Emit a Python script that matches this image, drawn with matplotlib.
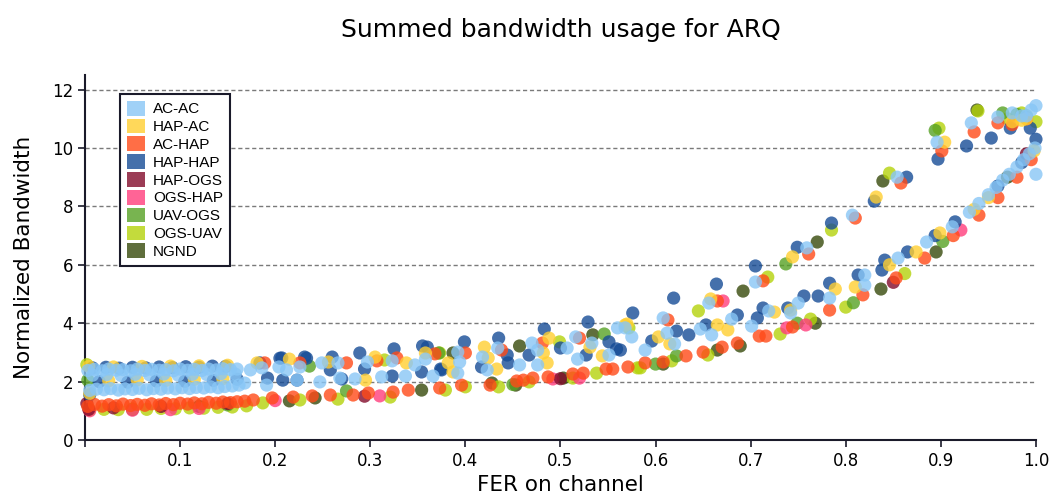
import numpy as np
import matplotlib.pyplot as plt
from matplotlib.patches import Patch

# FER / normalized bandwidth pairs per link type
acac_x = [0.003, 0.010, 0.018, 0.025, 0.033, 0.040, 0.048, 0.055, 0.063, 0.070, 0.078, 0.085, 0.093, 0.100, 0.108,
          0.115, 0.123, 0.130, 0.138, 0.145, 0.153, 0.160,
          0.008, 0.023, 0.038, 0.053, 0.068, 0.083, 0.098, 0.113, 0.128, 0.143, 0.158,
          0.005, 0.012, 0.020, 0.027, 0.035, 0.042, 0.050, 0.057, 0.065, 0.072, 0.080, 0.087, 0.095, 0.102, 0.110,
          0.117, 0.125, 0.132, 0.140, 0.147, 0.155, 0.162,
          0.168, 0.174, 0.186, 0.191, 0.204, 0.212, 0.223, 0.226, 0.247, 0.249, 0.266, 0.268, 0.284, 0.297, 0.312,
          0.323, 0.337, 0.347, 0.358, 0.366, 0.392, 0.394, 0.392, 0.434, 0.418, 0.423, 0.457, 0.470, 0.476, 0.476, 0.507,
          0.516, 0.533, 0.518, 0.551, 0.560, 0.568, 0.575, 0.589, 0.608, 0.612, 0.620, 0.647, 0.656, 0.659, 0.680, 0.701,
          0.705, 0.719, 0.742, 0.750, 0.759, 0.783, 0.807, 0.820, 0.820, 0.854, 0.855, 0.885, 0.896, 0.912, 0.932, 0.960,
          0.930, 0.940, 0.950, 0.958, 0.965, 0.972, 0.980, 0.987, 0.993, 0.999, 1.000, 0.985, 0.995, 1.000,
          0.975, 0.990]
acac_y = [2.38, 2.42, 2.37, 2.43, 2.39, 2.41, 2.37, 2.43, 2.38, 2.42, 2.39, 2.41, 2.37, 2.43, 2.39,
          2.42, 2.38, 2.43, 2.40, 2.44, 2.41, 2.43,
          2.22, 2.24, 2.21, 2.25, 2.23, 2.26, 2.22, 2.25, 2.24, 2.27, 2.26,
          1.70, 1.74, 1.72, 1.76, 1.71, 1.75, 1.73, 1.77, 1.72, 1.76, 1.74, 1.78, 1.75, 1.79, 1.76,
          1.80, 1.78, 1.82, 1.79, 1.83, 1.85, 1.88,
          1.95, 2.40, 2.47, 1.88, 2.50, 2.40, 2.05, 2.50, 1.99, 2.64, 2.64, 2.12, 2.09, 2.67, 2.16,
          2.71, 2.19, 2.57, 2.77, 2.19, 3.01, 2.67, 2.29, 3.15, 2.84, 2.40, 2.57, 3.32, 3.08, 2.57, 3.15,
          3.53, 3.32, 2.77, 2.91, 3.84, 3.84, 3.53, 3.08, 4.18, 3.66, 3.29, 3.80, 4.69, 3.60, 4.14, 3.90,
          5.41, 4.42, 4.35, 4.69, 6.58, 4.86, 7.70, 5.65, 5.30, 9.00, 6.23, 6.78, 10.20, 7.30, 10.86, 11.06,
          7.80, 8.10, 8.40, 8.65, 8.90, 9.10, 9.35, 9.60, 9.80, 10.00, 9.10, 11.10, 11.30, 11.45,
          11.20, 11.10]

hapac_x = [0.004, 0.030, 0.060, 0.090, 0.120, 0.150, 0.025, 0.055, 0.085, 0.115, 0.145, 0.005,
           0.181, 0.215, 0.256, 0.295, 0.305, 0.338, 0.358, 0.382, 0.387, 0.420, 0.424, 0.433, 0.482, 0.488,
           0.486, 0.531, 0.544, 0.568, 0.570, 0.603, 0.615, 0.658, 0.665, 0.676, 0.725, 0.742, 0.744,
           0.789, 0.810, 0.832, 0.846, 0.874, 0.899, 0.904, 0.935, 0.950, 0.975, 0.990, 0.998, 0.985]
hapac_y = [2.52, 2.50, 2.52, 2.53, 2.54, 2.56, 2.03, 2.06, 2.04, 2.08, 2.10, 1.60,
           2.64, 2.77, 2.67, 2.05, 2.84, 2.64, 2.98, 2.64, 2.33, 3.18, 2.81, 2.43, 2.98, 3.49,
           2.64, 3.18, 2.88, 3.94, 3.97, 3.53, 3.29, 4.83, 3.94, 3.77, 4.38, 4.45, 6.27,
           5.17, 5.24, 8.32, 6.00, 6.44, 7.09, 10.20, 7.90, 8.30, 10.90, 11.00, 9.90, 10.95]

achap_x = [0.003, 0.010, 0.018, 0.025, 0.033, 0.040, 0.048, 0.055, 0.063, 0.070, 0.078, 0.085, 0.093, 0.100, 0.108,
           0.115, 0.123, 0.130, 0.138, 0.145, 0.153, 0.160, 0.168,
           0.177, 0.189, 0.197, 0.219, 0.226, 0.239, 0.258, 0.275, 0.282, 0.298, 0.307, 0.324,
           0.328, 0.340, 0.368, 0.373, 0.396, 0.400, 0.426, 0.438, 0.454, 0.461, 0.471, 0.481, 0.487, 0.513, 0.520,
           0.524, 0.548, 0.555, 0.571, 0.589, 0.608, 0.613, 0.632, 0.650, 0.665, 0.670, 0.686, 0.709, 0.713, 0.716,
           0.744, 0.761, 0.783, 0.810, 0.818, 0.853, 0.858, 0.883, 0.901, 0.913, 0.935, 0.940, 0.960, 0.960, 0.980,
           0.990, 0.995, 0.975]
achap_y = [1.15, 1.22, 1.16, 1.21, 1.17, 1.23, 1.18, 1.22, 1.19, 1.24, 1.20, 1.25, 1.21, 1.26, 1.23,
           1.27, 1.24, 1.29, 1.26, 1.30, 1.28, 1.31, 1.33,
           1.37, 2.64, 1.44, 1.47, 2.64, 1.51, 1.54, 2.64, 1.54, 1.61, 2.71, 1.64,
           2.81, 1.71, 2.95, 1.78, 1.88, 2.98, 1.88, 3.08, 2.02, 2.05, 2.12, 3.32, 2.16, 2.26, 3.49,
           2.29, 2.43, 2.43, 2.50, 2.64, 2.67, 4.11, 2.88, 3.01, 4.76, 3.18, 3.32, 3.56, 5.45, 3.56,
           3.87, 6.37, 4.45, 7.60, 4.97, 5.55, 8.80, 6.23, 9.90, 7.00, 10.55, 7.70, 10.86, 8.30, 9.00,
           11.00, 9.60, 10.80]

haphap_x = [0.008, 0.022, 0.036, 0.050, 0.064, 0.078, 0.092, 0.106, 0.120, 0.134, 0.148,
            0.015, 0.045, 0.075, 0.105, 0.135, 0.160, 0.005, 0.184,
            0.192, 0.205, 0.207, 0.208, 0.223, 0.231, 0.233, 0.258, 0.260, 0.270, 0.289, 0.294, 0.323, 0.325, 0.354,
            0.355, 0.360, 0.374, 0.375, 0.399, 0.417, 0.435, 0.444, 0.445, 0.467, 0.483, 0.500, 0.527, 0.529, 0.551,
            0.559, 0.563, 0.576, 0.596, 0.619, 0.622, 0.635, 0.653, 0.664, 0.686, 0.705, 0.707, 0.713, 0.739, 0.749,
            0.756, 0.771, 0.783, 0.785, 0.813, 0.830, 0.838, 0.841, 0.864, 0.865, 0.894, 0.897, 0.915, 0.927, 0.953,
            0.960, 0.973, 0.985, 0.994, 1.000]
haphap_y = [2.47, 2.49, 2.46, 2.49, 2.47, 2.50, 2.48, 2.51, 2.49, 2.53, 2.52,
            2.00, 1.98, 2.02, 2.01, 2.04, 2.08, 1.55, 2.64,
            2.12, 2.80, 2.81, 2.05, 2.05, 2.84, 2.80, 2.40, 2.84, 2.09, 2.98, 2.43, 2.19, 3.12, 2.33,
            3.22, 3.18, 2.43, 2.40, 3.36, 2.50, 3.49, 2.91, 2.64, 2.91, 3.80, 3.15, 2.91, 4.04, 3.36,
            3.12, 3.08, 4.35, 3.39, 4.86, 3.73, 3.60, 3.94, 5.34, 4.28, 5.96, 4.18, 4.52, 4.52, 6.60,
            4.93, 4.93, 5.37, 7.43, 5.65, 8.18, 5.82, 6.16, 9.00, 6.44, 7.00, 9.62, 7.47, 10.07, 10.34,
            8.70, 10.68, 9.50, 10.68, 10.30]

hapogs_x = [0.002, 0.004, 0.030, 0.080, 0.150, 0.143, 0.294, 0.500, 0.850, 0.990]
hapogs_y = [1.25, 1.05, 1.10, 1.15, 1.25, 9.60, 1.50, 2.10, 5.40, 9.80]

ogshap_x = [0.005, 0.050, 0.090, 0.120, 0.200, 0.310, 0.492, 0.520, 0.671, 0.738, 0.758, 0.921]
ogshap_y = [1.00, 1.02, 1.04, 1.08, 1.35, 1.51, 2.09, 2.12, 4.76, 3.84, 3.94, 7.19]

uavogs_x = [0.003, 0.150, 0.236, 0.275, 0.372, 0.450, 0.546, 0.600, 0.622, 0.737, 0.749, 0.808, 0.894, 0.902,
            0.965, 0.980, 0.990]
uavogs_y = [2.05, 1.20, 2.53, 1.68, 2.98, 1.90, 3.63, 2.60, 2.88, 6.03, 4.00, 4.70, 10.60, 6.80,
            11.20, 11.15, 11.05]

ogsuav_x = [0.005, 0.020, 0.035, 0.050, 0.065, 0.080, 0.095, 0.110, 0.125, 0.140, 0.155, 0.170, 0.002,
            0.187, 0.226, 0.266, 0.315, 0.321, 0.373, 0.379, 0.400, 0.435, 0.467, 0.499, 0.513, 0.538, 0.572,
            0.581, 0.584, 0.617, 0.645, 0.655, 0.718, 0.731, 0.763, 0.785, 0.800, 0.846, 0.862, 0.898, 0.939,
            0.990, 1.000, 0.970, 0.985]
ogsuav_y = [1.03, 1.05, 1.04, 1.06, 1.05, 1.08, 1.07, 1.10, 1.09, 1.12, 1.13, 1.17, 2.58,
            1.27, 1.37, 1.40, 2.74, 1.47, 2.98, 1.71, 1.82, 1.82, 1.99, 3.36, 2.12, 2.29, 3.84,
            2.47, 2.47, 2.71, 4.42, 2.91, 5.58, 3.63, 4.14, 7.19, 4.55, 9.14, 5.70, 10.68, 11.27,
            11.10, 10.90, 11.00, 11.20]

ngnd_x = [0.050, 0.120, 0.215, 0.242, 0.354, 0.387, 0.428, 0.453, 0.457, 0.503, 0.534, 0.608, 0.665, 0.689,
          0.692, 0.768, 0.770, 0.837, 0.839, 0.895, 0.938, 0.970]
ngnd_y = [1.05, 1.15, 1.34, 1.44, 1.71, 2.98, 1.95, 1.88, 3.22, 2.12, 3.60, 2.60, 3.08, 3.22,
          5.10, 4.00, 6.78, 5.17, 8.87, 6.44, 11.30, 9.00]

labels = ['AC-AC', 'HAP-AC', 'AC-HAP', 'HAP-HAP', 'HAP-OGS', 'OGS-HAP', 'UAV-OGS', 'OGS-UAV', 'NGND']
colors = ['#88c6f6', '#ffcf31', '#ff4a18', '#164c96', '#820b2b', '#ff3d7c', '#56a124', '#b4d30b', '#374a0b']
xs = [acac_x, hapac_x, achap_x, haphap_x, hapogs_x, ogshap_x, uavogs_x, ogsuav_x, ngnd_x]
ys = [acac_y, hapac_y, achap_y, haphap_y, hapogs_y, ogshap_y, uavogs_y, ogsuav_y, ngnd_y]
ALPHA = 0.8

fig = plt.figure(figsize=(10.54, 4.96), dpi=100)
ax = fig.add_axes([0.0806, 0.1129, 0.9023, 0.7359])

# last series first so AC-AC ends up on top
for x, y, c in reversed(list(zip(xs, ys, colors))):
    ax.scatter(x, y, s=90, color=c, alpha=ALPHA, edgecolors='none', clip_on=False, zorder=3)

ax.set_xlim(0, 1.0)
ax.set_ylim(0, 12.5)
ax.set_xticks(np.arange(0, 1.01, 0.1))
ax.set_xticklabels([''] + ['%.1f' % v for v in np.arange(0.1, 1.01, 0.1)])
ax.set_yticks(range(0, 13, 2))
ax.tick_params(direction='out', length=5, width=1.2, labelsize=12, color='#1a1a2a', labelcolor='black')

for s in ['top', 'right']:
    ax.spines[s].set_visible(False)
for s in ['left', 'bottom']:
    ax.spines[s].set_linewidth(1.5)
    ax.spines[s].set_color('#1a1a2a')

ax.yaxis.grid(True, linestyle=(0, (3, 2)), color='#7a7a7a', linewidth=1)
ax.set_axisbelow(True)

ax.set_xlabel('FER on channel', fontsize=15.5)
ax.set_ylabel('Normalized Bandwidth', fontsize=15.5, labelpad=13)
ax.set_title('Summed bandwidth usage for ARQ', fontsize=18, pad=27)

handles = [Patch(facecolor=c, edgecolor='none', alpha=ALPHA) for c in colors]
leg = ax.legend(handles, labels, loc='upper left', bbox_to_anchor=(0.037, 0.948),
                prop={'family': 'Liberation Sans', 'size': 11},
                handlelength=1.15, handleheight=1.1, labelspacing=0.15, handletextpad=0.55,
                borderpad=0.45, borderaxespad=0, fancybox=False, framealpha=1, edgecolor='#1a1a2a')
leg.get_frame().set_linewidth(1.5)
leg.set_zorder(5)

fig.savefig('out.png', dpi=100)
